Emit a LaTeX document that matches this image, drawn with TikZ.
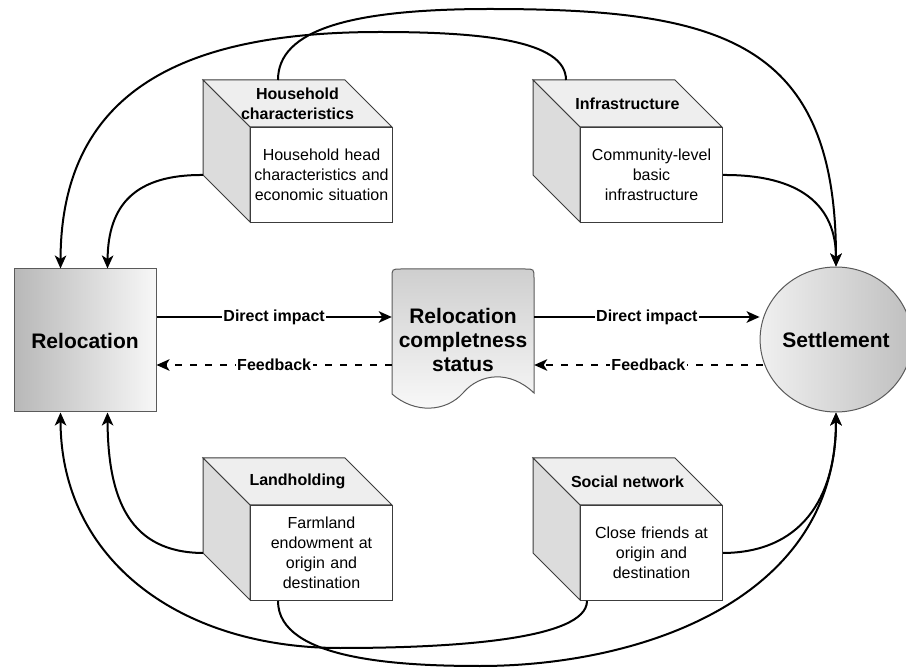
\documentclass[tikz,border=0pt]{standalone}
\usepackage{fontspec}
\setmainfont{Liberation Sans}
\usetikzlibrary{arrows.meta,shapes.geometric,calc}
\definecolor{cubeline}{HTML}{3C3C3C}
\definecolor{nodeline}{HTML}{5A5A5A}
\definecolor{topface}{HTML}{EEEEEE}
\definecolor{sideface}{HTML}{DCDCDC}
\tikzset{
  conn/.style={line width=2pt,-{Stealth[length=13pt,width=11.5pt,inset=3.5pt]}},
  fb/.style={conn,dash pattern=on 7pt off 8pt},
  lbl/.style={fill=white,inner sep=1.5pt,font=\fontsize{16}{18}\selectfont\bfseries},
  frontface/.style={draw=cubeline,line width=1pt,fill=white,minimum width=142pt,minimum height=95pt,
    align=center,inner sep=0pt,text width=140pt,font=\fontsize{16}{20}\selectfont},
  cubetitle/.style={align=center,inner sep=0pt,font=\fontsize{16}{20}\selectfont\bfseries},
  facedraw/.style={draw=cubeline,line width=1pt},
  bigtext/.style={font=\fontsize{21}{25}\selectfont\bfseries,align=center}
}
\newcommand{\drawcube}[5]{%
  \filldraw[facedraw,fill=topface] (#2-47,#3-47) -- (#2+95,#3-47) -- (#2+142,#3) -- (#2,#3) -- cycle;
  \filldraw[facedraw,fill=sideface] (#2-47,#3-47) -- (#2,#3) -- (#2,#3+95) -- (#2-47,#3+48) -- cycle;
  \node[frontface,anchor=north west] (#1) at (#2,#3) {#5};
  \node[cubetitle] (#1-title) at (#2+47.5,#3-23.5) {#4};
}
\begin{document}
\begin{tikzpicture}[x=1pt,y=-1pt]
\useasboundingbox (0,0) rectangle (906,668);

% main nodes
\node[draw=nodeline,line width=1pt,left color=gray!56,right color=gray!6,
  minimum width=142pt,minimum height=143pt,inner sep=0pt,bigtext] (rel) at (85,340.5) {Relocation};

\shade[top color=gray!38,bottom color=gray!4,draw=nodeline,line width=1pt]
  (392,394) -- (392,278) .. controls (392,269) and (392,269) .. (401,269) -- (525,269)
  .. controls (534,269) and (534,269) .. (534,278) -- (534,393)
  .. controls (510,370) and (480,373) .. (463,393)
  .. controls (446,412) and (415,414) .. (392,394) -- cycle;
\node[minimum width=142pt,minimum height=120pt,inner sep=0pt,bigtext,text depth=0pt] (doc) at (463,340)
  {Relocation\\[-1pt]completness\\[-1pt]status};

\node[ellipse,draw=nodeline,line width=1pt,left color=gray!12,right color=gray!50,
  minimum width=139pt,minimum height=145pt,inner sep=0pt,bigtext] (sett) at (836,339.5) {Settlement};

% cubes
\drawcube{hh}{250}{127}{Household\\characteristics}{Household head\\characteristics and\\economic situation}
\drawcube{inf}{580}{127}{Infrastructure}{Community-level\\basic\\infrastructure}
\drawcube{land}{250}{505}{Landholding}{Farmland\\endowment at\\origin and\\destination}
\drawcube{soc}{580}{505}{Social network}{Close friends at\\origin and\\destination}

% direct impact / feedback
\draw[conn] (rel.east |- 0,317) -- (doc.west |- 0,317) node[lbl,midway] {Direct impact};
\draw[conn] (doc.east |- 0,317) -- (sett.west |- 0,317) node[lbl,midway] {Direct impact};
\draw[fb] (doc.west |- 0,365) -- (rel.east |- 0,365) node[lbl,midway] {Feedback};
\draw[fb] ([xshift=3pt]sett.west |- 0,365) -- (doc.east |- 0,365) node[lbl,midway] {Feedback};

% curves
\draw[conn] ([xshift=-14pt,yshift=47pt]inf.north west) .. controls (566,40) and (480,32) .. (380,32)
  .. controls (200,32) and (61,80) .. ([xshift=47pt]rel.north west);
\draw[conn] ([xshift=28pt,yshift=47pt]hh.north west) .. controls (278,30) and (350,9) .. (490,9)
  .. controls (720,9) and (836,40) .. (sett.north);
\draw[conn] ([xshift=-47pt]hh.west) .. controls (135,174.5) and (108,205) .. ([xshift=94pt]rel.north west);
\draw[conn] (inf.east) .. controls (800,174.5) and (836,205) .. (sett.north);
\draw[conn] ([xshift=-47pt]land.west) .. controls (130,552.5) and (108,500) .. ([xshift=94pt]rel.south west);
\draw[conn] (soc.east) .. controls (800,552.5) and (836,500) .. (sett.south);
\draw[conn] ([xshift=7pt]soc.south west) .. controls (587,640) and (450,648) .. (340,648)
  .. controls (180,648) and (61,560) .. ([xshift=47pt]rel.south west);
\draw[conn] ([xshift=28pt]land.south west) .. controls (278,660) and (400,666) .. (480,666)
  .. controls (640,666) and (836,600) .. (sett.south);
\end{tikzpicture}
\end{document}
